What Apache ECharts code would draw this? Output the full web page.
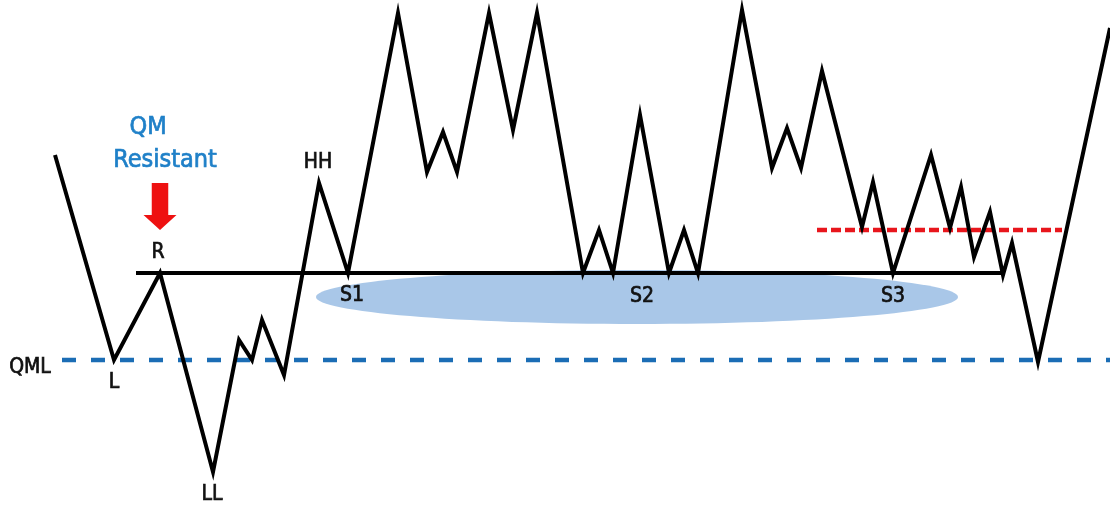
<!DOCTYPE html>
<html>
<head>
<meta charset="utf-8">
<script src="https://cdn.jsdelivr.net/npm/echarts@6/dist/echarts.min.js"></script>
<style>
  html, body { margin: 0; padding: 0; background: #fff; }
  #chart { width: 1110px; height: 508px; }
</style>
</head>
<body>
<div id="chart"></div>
<script>
// price path (x = time, y = price level)
const priceX = [55, 114, 160, 213, 239, 252, 262, 284, 319, 348, 398, 427, 443, 457, 489, 513, 537, 583, 599, 613, 640, 669, 684, 698, 742, 772, 787, 801, 822, 862, 873, 893, 931, 950, 961, 974, 990, 1003, 1012, 1038, 1110];
const priceY = [353, 148, 235, 36, 168, 148, 188, 133, 325, 235, 495, 336, 376, 336, 495, 378, 495, 235, 278, 235, 393, 235, 278, 235, 498, 340, 380, 340, 437, 281, 326, 235, 353, 280, 321, 251, 296, 233, 265, 146, 480];

// horizontal levels
const supportLevel = 235;
const supportX = [136, 1005];
const qmlLevel = 148;
const qmlX = [62, 1110];
const redLevel = 278;
const redX = [817, 1062];

// highlighted zone: centre x, centre y, half width, half height
const zone = [637, 211, 321, 27];

// annotations
const blackNames = ["R", "L", "LL", "HH", "S1", "S2", "S3", "QML"];
const blackX = [158, 114, 212, 318, 352, 642, 893, 30];
const blackY = [255, 125, 13, 345, 212, 211, 211, 140];
const blueNames = ["QM", "Resistant"];
const blueX = [148, 165];
const blueY = [381, 348];
const arrowPos = [160, 301.5];

const font = "'DejaVu Sans Condensed', 'Roboto', sans-serif";

const chart = echarts.init(document.getElementById("chart"));

function levelLine(xs, y) {
  return xs.map((x) => [x, y]);
}

function labels(names, xs, ys) {
  return names.map((n, i) => ({ name: n, value: [xs[i], ys[i]] }));
}

const option = {
  animation: false,
  backgroundColor: "#ffffff",
  grid: { left: 0, right: 0, top: 0, bottom: 0 },
  xAxis: { type: "value", min: 0, max: 1110, show: false },
  yAxis: { type: "value", min: 0, max: 508, show: false },
  series: [
    {
      type: "custom",
      z: 1,
      silent: true,
      data: [zone],
      renderItem: function (params, api) {
        const c = api.coord([api.value(0), api.value(1)]);
        const s = api.size([api.value(2), api.value(3)]);
        return {
          type: "ellipse",
          shape: { cx: c[0], cy: c[1], rx: s[0], ry: s[1] },
          style: { fill: "#a9c7e8" },
        };
      },
    },
    {
      type: "line",
      z: 3,
      data: levelLine(qmlX, qmlLevel),
      showSymbol: false,
      lineStyle: { color: "#1b6db5", width: 4.5, type: [14, 15] },
    },
    {
      type: "line",
      z: 3,
      data: levelLine(redX, redLevel),
      showSymbol: false,
      lineStyle: { color: "#e8161c", width: 4.5, type: [10, 4] },
    },
    {
      type: "line",
      z: 4,
      data: levelLine(supportX, supportLevel),
      showSymbol: false,
      lineStyle: { color: "#000", width: 4 },
    },
    {
      type: "line",
      z: 5,
      data: priceX.map((x, i) => [x, priceY[i]]),
      showSymbol: false,
      lineStyle: { color: "#000", width: 4, join: "miter", miterLimit: 10 },
    },
    {
      type: "scatter",
      z: 6,
      symbolSize: 0,
      itemStyle: { opacity: 1 },
      data: labels(blackNames, blackX, blackY),
      label: {
        show: true,
        position: "inside",
        formatter: (p) => p.name,
        color: "#111",
        fontFamily: font,
        fontSize: 21,
        textBorderColor: "#111",
        textBorderWidth: 0.7,
      },
    },
    {
      type: "scatter",
      z: 6,
      symbolSize: 0,
      itemStyle: { opacity: 1 },
      data: labels(blueNames, blueX, blueY),
      label: {
        show: true,
        position: "inside",
        formatter: (p) => p.name,
        color: "#1f80c8",
        fontFamily: font,
        fontSize: 25,
        textBorderColor: "#1f80c8",
        textBorderWidth: 0.7,
      },
    },
    {
      type: "scatter",
      z: 6,
      symbol: "path://M8,0 L24,0 L24,32 L32,32 L16,47 L0,32 L8,32 Z",
      symbolSize: [33, 47],
      itemStyle: { color: "#ee1111", opacity: 1 },
      data: [arrowPos],
    },
  ],
};

chart.setOption(option);
</script>
</body>
</html>
